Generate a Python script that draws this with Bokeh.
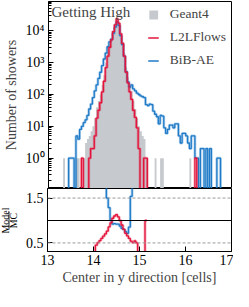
import numpy as np
from bokeh.plotting import figure
from bokeh.layouts import column, row
from bokeh.models import (Range1d, FixedTicker, Label, Span, Legend, LegendItem)
from bokeh.embed import file_html
from bokeh.resources import INLINE

# ---------------- data ----------------
bin_low, bin_high, n_bins = 13.0, 17.0, 100

geant4 = [
    0, 0, 0, 0, 0, 0, 0, 0, 1, 0,
    0, 0, 0, 0, 0, 1, 1, 0, 0, 1,
    3, 4, 5, 7, 10, 18, 40, 63, 100, 200,
    400, 1000, 2100, 3500, 5500, 9000, 14000, 21000, 16000, 8000,
    4500, 2000, 700, 350, 200, 130, 63, 35, 18, 10,
    7, 5, 4, 1, 0, 0, 0, 0, 1, 0,
    0, 1, 1, 0, 0, 0, 0, 0, 0, 0,
    0, 0, 0, 0, 0, 0, 0, 1, 0, 0,
    0, 0, 0, 0, 0, 0, 0, 0, 0, 0,
    0, 0, 0, 0, 0, 0, 0, 0, 0, 0,
]
l2lflows = [
    0, 0, 0, 0, 0, 0, 0, 0, 0, 0,
    0, 0, 0, 0, 0, 0, 0, 0, 1, 0,
    0, 0, 1, 2, 2, 5, 18, 32, 55, 120,
    260, 700, 1600, 3000, 5200, 9450, 15400, 23700, 17300, 8000,
    4050, 1600, 500, 230, 120, 70, 32, 19, 9, 2,
    0, 0, 1, 1, 0, 0, 0, 0, 0, 0,
    0, 0, 0, 0, 0, 0, 0, 0, 0, 0,
    0, 0, 0, 0, 0, 0, 0, 0, 0, 0,
    1, 0, 0, 0, 0, 0, 0, 0, 0, 0,
    0, 0, 0, 0, 0, 0, 0, 0, 0, 0,
]
bibae = [
    0, 0, 0, 0, 0, 0, 0, 0, 0, 0,
    0, 1, 1, 1, 0, 5, 4, 8, 10, 13,
    16, 22, 35, 50, 80, 130, 200, 320, 500, 800,
    1300, 2000, 3150, 4500, 5500, 8300, 13000, 19300, 14700, 7000,
    3700, 1600, 525, 250, 170, 200, 150, 130, 110, 100,
    90, 85, 80, 48, 45, 50, 48, 30, 24, 20,
    12, 22, 21, 9, 6, 8, 11, 11, 9, 12,
    12, 5, 3, 6, 6, 5, 3, 2, 5, 5,
    1, 1, 0, 2, 2, 0, 2, 0, 2, 0,
    0, 0, 1, 1, 0, 0, 0, 0, 0, 0,
]
series_names = ["Geant4", "L2LFlows", "BiB-AE"]
decade_ticks = [1.0, 10.0, 100.0, 1000.0, 10000.0]
decade_labels = ["10⁰", "10¹", "10²", "10³", "10⁴"]
x_ticks = [13, 14, 15, 16, 17]
ratio_ticks = [0.5, 1.5]
title_text = "Getting High"
x_label = "Center in y direction [cells]"
y_label = "Number of showers"
ratio_num, ratio_den = "Model", "MC"

# ---------------- styling ----------------
FONT = "Liberation Serif"
GRAY = "#c6c9cd"
RED = "#e3143c"
BLUE = "#1f7bc8"
FLOOR = 1e-3
BOTTOM = 40   # space reserved below the ratio panel for the x axis

edges = np.linspace(bin_low, bin_high, n_bins + 1)


def step_xy(vals, floor=None):
    v = np.asarray(vals, dtype=float)
    if floor is not None:
        v = np.where(v > 0, v, floor)
    xs = np.repeat(edges, 2)[1:-1]
    ys = np.repeat(v, 2)
    return xs, ys


def style_axes(fig):
    for ax in (fig.xaxis[0], fig.yaxis[0]):
        ax.major_tick_in = 5
        ax.major_tick_out = 0
        ax.minor_tick_in = 3
        ax.minor_tick_out = 0
        ax.major_label_text_font = FONT
        ax.major_label_text_font_size = "14px"
        ax.major_label_text_color = "black"
        ax.axis_label_text_font = FONT
        ax.axis_label_text_font_size = "14px"
        ax.axis_label_text_font_style = "normal"
        ax.axis_line_color = "black"
        ax.major_tick_line_color = "black"
        ax.minor_tick_line_color = "black"
    fig.grid.visible = False
    fig.outline_line_color = "black"
    fig.outline_line_width = 1
    fig.outline_line_alpha = 1


# ---------------- top panel ----------------
p = figure(width=233, height=188, x_range=Range1d(bin_low, bin_high),
           y_range=Range1d(0.112, 83000), y_axis_type="log",
           output_backend="svg", toolbar_location=None,
           min_border_left=47, min_border_right=2, min_border_top=1,
           min_border_bottom=0)
style_axes(p)
p.xaxis.visible = False
p.yaxis.ticker = FixedTicker(
    ticks=decade_ticks,
    minor_ticks=[m * 10.0 ** k for k in range(-1, 5) for m in range(2, 10)])
p.yaxis.major_label_overrides = dict(zip(decade_ticks, decade_labels))
p.yaxis.axis_label = y_label
p.yaxis.major_label_standoff = 4
p.yaxis.axis_label_standoff = 4

gx, gy = step_xy(geant4, FLOOR)
gray_r = p.varea(x=gx, y1=np.full_like(gy, FLOOR), y2=gy, fill_color=GRAY, fill_alpha=1)

bx, by = step_xy(bibae, FLOOR)
p.line(bx, by, line_color=BLUE, line_width=2.8, line_alpha=0.35)
blue_r = p.line(bx, by, line_color=BLUE, line_width=1.3)

rx, ry = step_xy(l2lflows, FLOOR)
p.line(rx, ry, line_color=RED, line_width=2.8, line_alpha=0.35)
red_r = p.line(rx, ry, line_color=RED, line_width=1.3)

legend = Legend(items=[LegendItem(label=series_names[0], renderers=[gray_r]),
                       LegendItem(label=series_names[1], renderers=[red_r]),
                       LegendItem(label=series_names[2], renderers=[blue_r])],
                location="top_right")
legend.border_line_color = None
legend.background_fill_alpha = 0
legend.label_text_font = FONT
legend.label_text_font_size = "13.5px"
legend.glyph_width = 11
legend.glyph_height = 11
legend.label_height = 13
legend.label_standoff = 11
legend.spacing = 7
legend.padding = 4
legend.margin = 5
p.add_layout(legend)

p.add_layout(Label(x=bin_low, y=p.y_range.end, x_offset=3, y_offset=-2,
                   text=title_text, text_baseline="top",
                   text_font=FONT, text_font_size="15px"))

# ---------------- ratio panel ----------------
r = figure(width=211, height=103, x_range=p.x_range, y_range=Range1d(0.309, 1.713),
           output_backend="svg", toolbar_location=None,
           min_border_left=25, min_border_right=2, min_border_top=0,
           min_border_bottom=BOTTOM)
style_axes(r)
r.xaxis.ticker = FixedTicker(ticks=x_ticks)
r.yaxis.ticker = FixedTicker(ticks=ratio_ticks)
r.xaxis.axis_label = x_label
r.xaxis.major_label_standoff = 3
r.xaxis.axis_label_standoff = 2
r.yaxis.major_label_standoff = 4

for lvl in ratio_ticks:
    r.add_layout(Span(location=lvl, dimension="width", line_color="#9a9a9a",
                      line_dash="3 2", line_width=1))
r.add_layout(Span(location=1.0, dimension="width", line_color="black", line_width=1.2))

g = np.asarray(geant4, dtype=float)
for vals, col in ((bibae, BLUE), (l2lflows, RED)):
    m = np.asarray(vals, dtype=float)
    ok = (g > 0) & (m > 0)
    ratio = np.full_like(g, np.nan)
    ratio[ok] = m[ok] / g[ok]
    xs, ys = step_xy(ratio)
    r.line(xs, ys, line_color=col, line_width=2.8, line_alpha=0.35)
    r.line(xs, ys, line_color=col, line_width=1.3)

# ---------------- ratio y-label as a fraction (own narrow panel) ----------------
f = figure(width=22, height=103, x_range=Range1d(0, 22), y_range=r.y_range,
           output_backend="svg", toolbar_location=None,
           min_border_left=0, min_border_right=0, min_border_top=0,
           min_border_bottom=BOTTOM)
f.axis.visible = False
f.grid.visible = False
f.outline_line_color = None
f.text(x=[4.5, 12.5], y=[1.0, 1.0], text=[ratio_num, ratio_den], angle=np.pi / 2,
       text_align="center", text_baseline="middle",
       text_font={"value": FONT}, text_font_size="10px", text_color="black")
f.segment(x0=[8.5], y0=[0.8], x1=[8.5], y1=[1.2], line_color="black", line_width=0.8)

layout = column(p, row(f, r, spacing=0), spacing=0)
open("out.html", "w").write(file_html(layout, INLINE))
